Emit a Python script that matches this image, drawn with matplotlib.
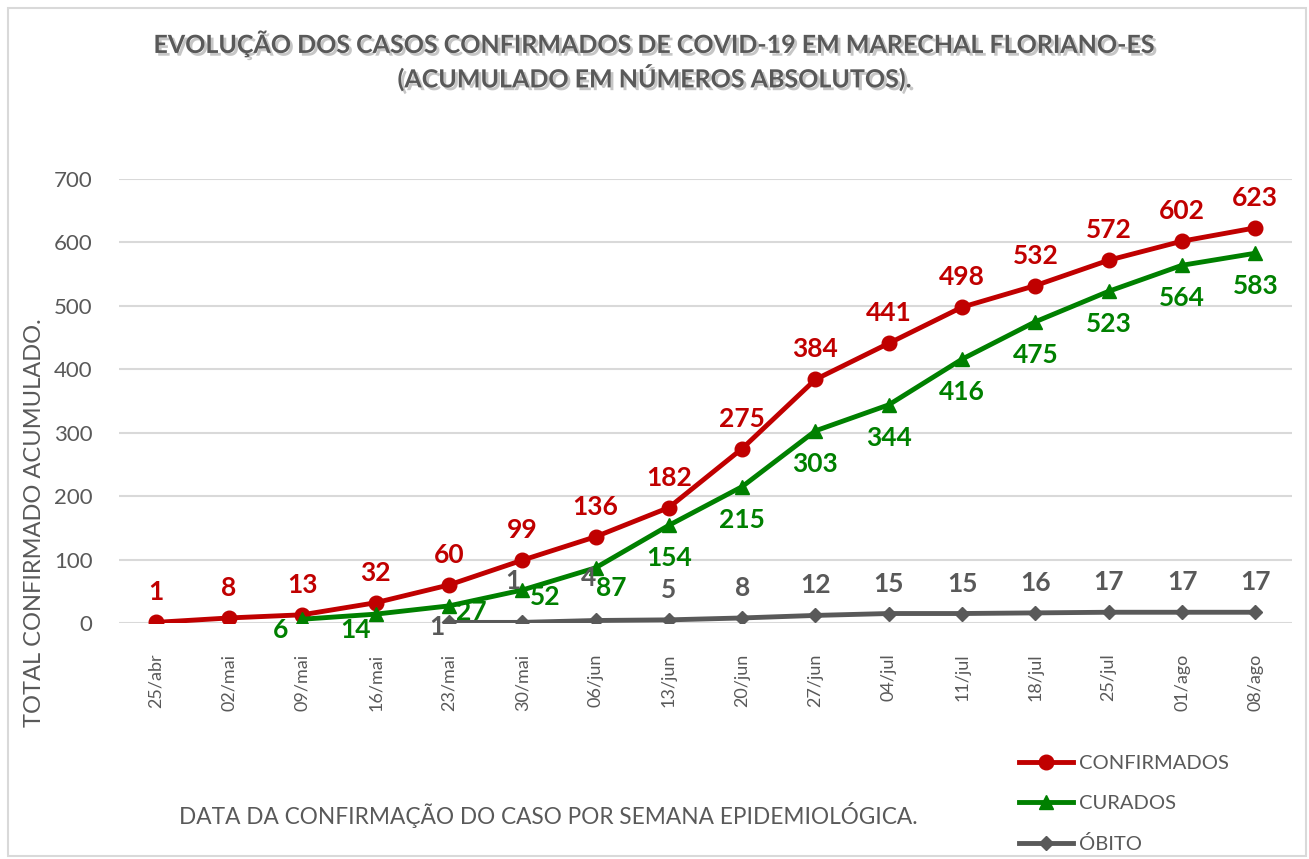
import numpy as np
import matplotlib.pyplot as plt
import matplotlib.patheffects as pe
from matplotlib.patches import Rectangle

plt.rcParams['font.family'] = ['Lato', 'DejaVu Sans']

semanas = ['25/abr', '02/mai', '09/mai', '16/mai', '23/mai', '30/mai', '06/jun', '13/jun',
           '20/jun', '27/jun', '04/jul', '11/jul', '18/jul', '25/jul', '01/ago', '08/ago']
confirmados = [1, 8, 13, 32, 60, 99, 136, 182, 275, 384, 441, 498, 532, 572, 602, 623]
curados = [6, 14, 27, 52, 87, 154, 215, 303, 344, 416, 475, 523, 564, 583]
obitos = [1, 1, 4, 5, 8, 12, 15, 15, 16, 17, 17, 17]

red = '#C00000'
green = '#008000'
gray = '#595959'

x = np.arange(len(semanas))
x_cur = x[len(semanas) - len(curados):]
x_obi = x[len(semanas) - len(obitos):]

fig = plt.figure(figsize=(13.09, 8.59), dpi=100)
ax = fig.add_axes([0.0909, 0.2747, 0.8961, 0.5169])

fig.patches.append(Rectangle((0.006, 0.003), 0.992, 0.988, transform=fig.transFigure,
                             fill=False, edgecolor='#d9d9d9', linewidth=1.5))

ax.plot(x, confirmados, color=red, lw=3.5, marker='o', ms=10.5, label='CONFIRMADOS', zorder=3)
ax.plot(x_cur, curados, color=green, lw=3.5, marker='^', ms=10.5, label='CURADOS', zorder=3)
ax.plot(x_obi, obitos, color=gray, lw=3.5, marker='D', ms=7, label='ÓBITO', zorder=3)

lab = dict(fontsize=19, fontweight='bold', ha='center', va='center',
           textcoords='offset pixels', annotation_clip=False)
for xi, v in zip(x, confirmados):
    ax.annotate(str(v), (xi, v), xytext=(0, 30), color=red, **lab)

cur_off = [(-22, -11), (-20, -16), (22, -6), (23, -7), (16, -20)] + [(0, -33)] * 9
for xi, v, off in zip(x_cur, curados, cur_off):
    ax.annotate(str(v), (xi, v), xytext=off, color=green, **lab)

obi_off = [(-12, -5), (-9, 41), (-7, 42)] + [(0, 30)] * 9
for xi, v, off in zip(x_obi, obitos, obi_off):
    ax.annotate(str(v), (xi, v), xytext=off, color=gray, **lab)

ax.set_xlim(-0.5, len(semanas) - 0.5)
ax.set_ylim(0, 700)
ax.set_yticks(range(0, 701, 100))
ax.set_xticks(x)
ax.set_xticklabels(semanas, rotation=90, fontsize=13, color=gray)
ax.tick_params(axis='y', labelsize=16, labelcolor=gray, length=0, pad=19)
ax.tick_params(axis='x', length=0, pad=22)
ax.grid(axis='y', color='#d9d9d9', lw=1.5)
ax.set_axisbelow(True)
for s in ax.spines.values():
    s.set_visible(False)

fig.text(0.026, 0.392, 'TOTAL CONFIRMADO ACUMULADO.', rotation=90, fontsize=17,
         color=gray, ha='center', va='center')
fig.text(0.419, 0.051, 'DATA DA CONFIRMAÇÃO DO CASO POR SEMANA EPIDEMIOLÓGICA.',
         fontsize=16.3, color=gray, ha='center', va='center')

title = fig.text(0.5, 0.929, 'EVOLUÇÃO DOS CASOS CONFIRMADOS DE COVID-19 EM MARECHAL FLORIANO-ES\n'
                 '(ACUMULADO EM NÚMEROS ABSOLUTOS).', fontsize=18, fontweight='bold',
                 color=gray, ha='center', va='center', linespacing=1.3)
title.set_path_effects([pe.withSimplePatchShadow(offset=(2, -2), shadow_rgbFace='#a0a0a0', alpha=0.6)])

fig.legend(loc='upper left', bbox_to_anchor=(0.772, 0.131), frameon=False, fontsize=14.5,
           labelcolor=gray, handlelength=2.7, handletextpad=0.3, labelspacing=1.15,
           borderaxespad=0)

fig.savefig('out.png', dpi=100)
